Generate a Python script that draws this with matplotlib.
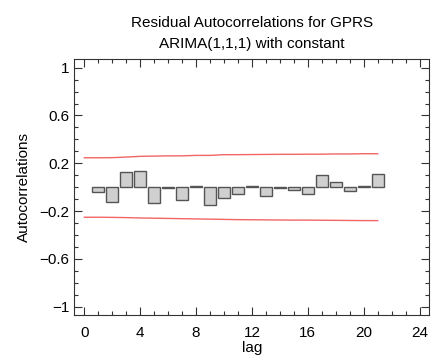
#!/usr/bin/env python3
"""Residual autocorrelation plot for GPRS, ARIMA(1,1,1) with constant."""

import matplotlib
matplotlib.use("Agg")
import matplotlib.pyplot as plt
from matplotlib.ticker import MultipleLocator

# Data
lags = list(range(1, 22))
acf = [-0.039, -0.123, 0.129, 0.134, -0.131, -0.011, -0.109, 0.006, -0.148, -0.087,
       -0.056, 0.008, -0.073, -0.011, -0.022, -0.056, 0.098, 0.042, -0.031, 0.008, 0.106]

limit_lags = [0, 1, 2, 3, 4, 5, 6, 7, 8, 9, 10, 11, 12, 13, 14, 15, 16, 17, 18, 19, 20, 21]
upper_limit = [0.246, 0.246, 0.247, 0.252, 0.258, 0.260, 0.262, 0.262, 0.266, 0.266, 0.272,
               0.272, 0.273, 0.274, 0.275, 0.275, 0.276, 0.276, 0.278, 0.278, 0.280, 0.280]
lower_limit = [-0.252, -0.252, -0.253, -0.255, -0.258, -0.260, -0.262, -0.264, -0.266, -0.268,
               -0.270, -0.272, -0.273, -0.274, -0.275, -0.276, -0.276, -0.277, -0.278, -0.279,
               -0.280, -0.280]

xticks = [0, 4, 8, 12, 16, 20, 24]
yticks = [1, 0.6, 0.2, -0.2, -0.6, -1]
ytick_labels = ["1", "0.6", "0.2", "\u22120.2", "\u22120.6", "\u22121"]

plt.rcParams["font.family"] = ["Liberation Sans", "DejaVu Sans"]

fig = plt.figure(figsize=(4.33, 3.62), dpi=100)
ax = fig.add_axes([0.1716, 0.130, 0.82, 0.706])

ax.bar(lags, acf, width=0.85, color="#d0d0d0", edgecolor="#555555", linewidth=1.0, zorder=2)
ax.plot(limit_lags, upper_limit, color="#f36464", linewidth=1.0, zorder=3)
ax.plot(limit_lags, lower_limit, color="#f36464", linewidth=1.0, zorder=3)

ax.set_xlim(-0.72, 24.7)
ax.set_ylim(-1.07, 1.07)
ax.set_xticks(xticks)
ax.set_yticks(yticks)
ax.set_yticklabels(ytick_labels)
ax.xaxis.set_minor_locator(MultipleLocator(1))
ax.yaxis.set_minor_locator(MultipleLocator(0.1))
ax.tick_params(which="both", direction="in", top=True, right=True, labelsize=11,
               color="#333333")
ax.tick_params(which="major", length=6, width=0.8)
ax.tick_params(which="minor", length=3, width=0.8)
ax.tick_params(axis="x", which="major", pad=8)
for spine in ax.spines.values():
    spine.set_linewidth(0.8)
    spine.set_color("#333333")

ax.set_xlabel("lag", fontsize=11, labelpad=1)
ax.set_ylabel("Autocorrelations", fontsize=11, labelpad=6)
ax.set_title("Residual Autocorrelations for GPRS\nARIMA(1,1,1) with constant",
             fontsize=11, linespacing=1.7, pad=8)

fig.savefig("out.png", dpi=100)
